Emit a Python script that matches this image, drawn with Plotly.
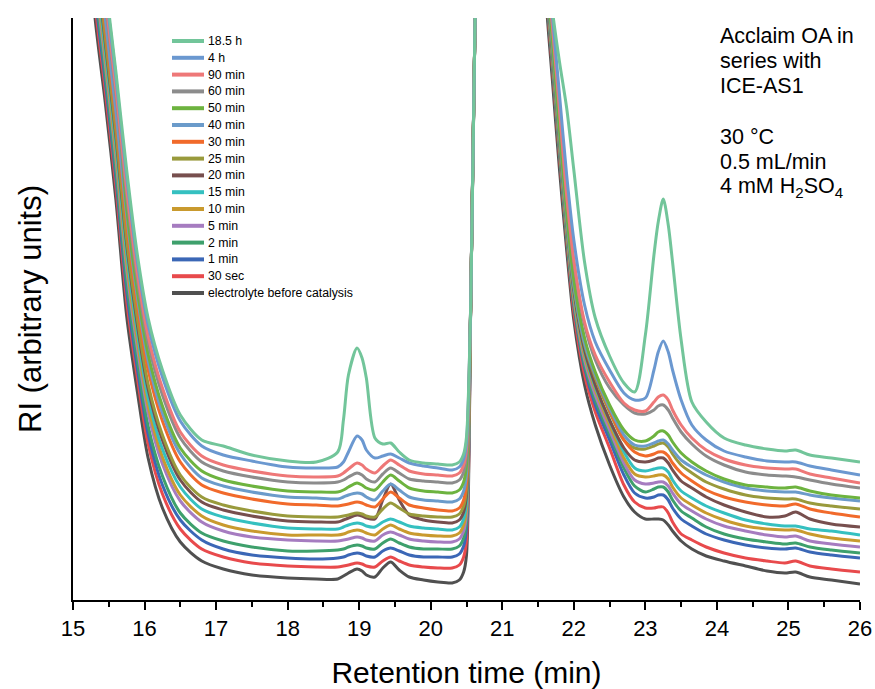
import plotly.graph_objects as go

# Retention time grid (min); None-gap where the solvent spike leaves the plot
retention_time = [
    15.22, 15.30, 15.45, 15.60, 15.75, 15.90, 16.05, 16.25, 16.50, 16.80, 17.10, 17.50,
    18.00, 18.40, 18.70, 18.78, 18.85, 18.97, 19.04, 19.10, 19.22, 19.33, 19.44, 19.56, 19.70, 19.90, 20.10, 20.30,
    20.40, 20.46, 20.50, 20.56, 20.62, 20.68,
    21.10,
    21.54, 21.60, 21.70, 21.80, 21.90, 22.00, 22.15, 22.30, 22.50, 22.70, 22.85, 23.00, 23.12, 23.18, 23.25, 23.32,
    23.38, 23.50, 23.65, 23.85, 24.10, 24.40, 24.70, 24.95, 25.10, 25.30, 25.60, 26.00,
]

ri_electrolyte = [680, 588, 498, 400, 284, 208, 142, 92, 58, 39, 31, 25,
                  22, 21, 21, 24, 27, 31, 29, 25, 23, 32, 38, 30, 23, 20, 18, 17,
                  20, 28, 45, 300, 582, 750, None,
                  680, 610, 520, 430, 350, 280, 215, 175, 135, 103, 88, 81, 81, 81, 80, 75,
                  69, 59, 51, 44, 39, 34, 29, 27, 28, 23, 20, 16]
ri_30sec = [697, 602, 510, 413, 299, 222, 156, 106, 71, 51, 43, 37,
            34, 33, 33, 34, 35, 37, 36, 34, 33, 39, 43, 39, 35, 33, 32, 32,
            35, 43, 60, 300, 582, 750, None,
            690, 620, 532, 442, 360, 288, 225, 188, 152, 115, 98, 92, 92, 93, 93, 87,
            78, 66, 60, 53, 47, 42, 39, 37, 39, 34, 31, 28]
ri_1min = [709, 612, 519, 422, 309, 231, 166, 115, 80, 60, 51, 45,
           42, 41, 42, 43, 45, 47, 46, 44, 43, 49, 52, 49, 45, 43, 43, 43,
           46, 54, 71, 300, 582, 750, None,
           695, 625, 538, 448, 365, 295, 232, 195, 160, 125, 107, 102, 103, 105, 105, 100,
           92, 81, 74, 66, 60, 55, 52, 51, 52, 48, 45, 42]
ri_2min = [719, 621, 526, 429, 318, 240, 174, 124, 87, 67, 59, 53,
           49, 49, 50, 51, 53, 55, 54, 52, 51, 57, 61, 57, 53, 51, 51, 51,
           54, 62, 79, 300, 582, 750, None,
           695, 625, 538, 448, 365, 297, 235, 200, 166, 132, 114, 108, 111, 113, 113, 108,
           100, 89, 82, 73, 66, 61, 58, 56, 57, 53, 50, 47]
ri_5min = [734, 633, 537, 441, 331, 252, 187, 136, 99, 78, 69, 63,
           60, 59, 59, 60, 61, 63, 62, 60, 59, 65, 68, 65, 61, 59, 58, 58,
           61, 69, 86, 300, 582, 750, None,
           700, 630, 545, 455, 372, 302, 240, 205, 170, 137, 120, 116, 117, 118, 118, 114,
           107, 96, 89, 81, 74, 69, 65, 63, 64, 59, 56, 53]
ri_10min = [743, 641, 543, 447, 338, 259, 194, 143, 105, 84, 75, 69,
            65, 65, 65, 66, 68, 70, 69, 67, 65, 71, 75, 71, 67, 65, 64, 64,
            67, 75, 92, 300, 582, 750, None,
            700, 630, 545, 455, 372, 304, 244, 210, 175, 142, 126, 123, 124, 125, 125, 121,
            113, 102, 95, 87, 80, 74, 71, 70, 70, 66, 62, 59]
ri_15min = [753, 649, 550, 455, 347, 267, 202, 151, 113, 91, 83, 77,
            72, 71, 71, 73, 75, 77, 76, 74, 73, 78, 81, 78, 74, 72, 71, 70,
            73, 81, 98, 300, 582, 750, None,
            705, 635, 550, 460, 378, 308, 248, 213, 179, 148, 132, 129, 131, 132, 132, 128,
            120, 109, 102, 94, 87, 80, 76, 74, 74, 71, 69, 65]
ri_20min = [763, 658, 558, 463, 356, 275, 211, 160, 120, 98, 90, 84,
            79, 78, 78, 80, 82, 85, 84, 82, 81, 100, 116, 100, 85, 80, 78, 77,
            80, 88, 105, 300, 582, 750, None,
            705, 635, 550, 460, 378, 310, 250, 215, 180, 152, 140, 138, 140, 142, 142, 137,
            130, 119, 112, 103, 95, 88, 83, 84, 88, 81, 76, 73]
ri_25min = [770, 663, 563, 468, 361, 281, 216, 165, 125, 103, 95, 89,
            84, 83, 83, 84, 85, 87, 86, 84, 83, 91, 97, 92, 86, 84, 83, 83,
            86, 94, 111, 300, 582, 750, None,
            710, 640, 555, 465, 382, 314, 255, 222, 188, 160, 152, 151, 154, 156, 157, 153,
            146, 135, 127, 118, 111, 105, 102, 101, 101, 97, 94, 91]
ri_30min = [787, 677, 575, 481, 376, 294, 230, 179, 138, 115, 107, 101,
            96, 95, 94, 95, 96, 98, 97, 95, 93, 101, 108, 102, 95, 92, 90, 89,
            92, 100, 117, 300, 582, 750, None,
            710, 640, 560, 470, 388, 320, 260, 225, 190, 160, 148, 144, 146, 148, 148, 144,
            137, 127, 119, 110, 103, 98, 95, 94, 96, 91, 87, 83]
ri_40min = [797, 686, 582, 488, 385, 303, 239, 187, 146, 122, 114, 108,
            103, 102, 101, 103, 105, 107, 106, 103, 100, 109, 116, 110, 103, 100, 99, 98,
            101, 109, 126, 300, 582, 750, None,
            710, 640, 555, 465, 382, 315, 257, 225, 192, 165, 155, 154, 157, 159, 160, 156,
            150, 140, 133, 125, 118, 112, 109, 108, 108, 105, 102, 99]
ri_50min = [842, 723, 614, 522, 392, 309, 246, 194, 152, 129, 120, 114,
            109, 108, 108, 110, 113, 117, 115, 112, 110, 118, 125, 119, 112, 109, 108, 107,
            110, 118, 135, 300, 582, 750, None,
            715, 645, 560, 470, 388, 320, 262, 228, 195, 170, 160, 159, 164, 168, 169, 165,
            158, 147, 138, 129, 121, 115, 113, 112, 113, 109, 105, 102]
ri_60min = [819, 704, 598, 505, 404, 320, 257, 205, 162, 138, 129, 123,
            118, 117, 118, 120, 123, 127, 125, 121, 118, 126, 132, 127, 121, 119, 118, 117,
            120, 128, 145, 300, 582, 750, None,
            725, 655, 575, 490, 405, 338, 275, 240, 212, 195, 187, 186, 190, 194, 195, 190,
            182, 168, 156, 144, 135, 128, 125, 124, 123, 120, 116, 112]
ri_90min = [828, 712, 604, 511, 411, 327, 264, 212, 168, 144, 135, 129,
            124, 123, 124, 127, 131, 137, 135, 131, 127, 134, 140, 135, 129, 126, 125, 124,
            127, 135, 152, 300, 582, 750, None,
            725, 655, 575, 490, 405, 340, 278, 245, 218, 197, 190, 189, 198, 203, 205, 200,
            190, 175, 162, 150, 141, 135, 132, 131, 131, 126, 122, 117]
ri_4h = [842, 723, 614, 522, 423, 338, 275, 223, 179, 154, 145, 139,
         133, 132, 133, 138, 148, 164, 160, 150, 142, 144, 146, 142, 137, 134, 132, 130,
         133, 141, 158, 300, 582, 750, None,
         730, 660, 585, 505, 425, 360, 295, 258, 230, 207, 200, 202, 230, 248, 259, 248,
         230, 200, 175, 160, 149, 143, 139, 138, 138, 134, 130, 125]
ri_18_5h = [850, 730, 620, 528, 430, 345, 282, 230, 185, 160, 154, 145,
            139, 138, 148, 180, 225, 252, 242, 222, 162, 156, 157, 148, 140, 137, 136, 135,
            138, 146, 163, 300, 582, 750, None,
            730, 660, 590, 538, 492, 430, 338, 282, 244, 217, 208, 265, 345, 378, 401, 375,
            338, 260, 198, 178, 162, 155, 151, 149, 150, 145, 142, 138]

series_names = ["electrolyte before catalysis", "30 sec", "1 min", "2 min", "5 min", "10 min",
                "15 min", "20 min", "25 min", "30 min", "40 min", "50 min", "60 min",
                "90 min", "4 h", "18.5 h"]
series_values = [ri_electrolyte, ri_30sec, ri_1min, ri_2min, ri_5min, ri_10min, ri_15min,
                 ri_20min, ri_25min, ri_30min, ri_40min, ri_50min, ri_60min, ri_90min,
                 ri_4h, ri_18_5h]
series_colors = ["#505050", "#e84a4c", "#3b67b6", "#3ea06c", "#a67cc0", "#c99a2e",
                 "#35c0c0", "#774f4e", "#999a3c", "#f16a2b", "#6b9bca", "#6db33f",
                 "#8c8c8c", "#ee7878", "#6b98d0", "#72c59a"]

x_ticks = [15, 16, 17, 18, 19, 20, 21, 22, 23, 24, 25, 26]
note_lines = ["Acclaim OA in", "series with", "ICE-AS1", "",
              "30 °C", "0.5 mL/min", "4 mM H<sub>2</sub>SO<sub>4</sub>"]

fig = go.Figure()
for name, vals, col in zip(series_names, series_values, series_colors):
    fig.add_trace(go.Scatter(
        x=retention_time, y=vals, name=name, mode="lines",
        line=dict(color=col, width=3, shape="spline", smoothing=0.8),
        connectgaps=False, showlegend=False,
    ))

sans = "Liberation Sans, Arial, sans-serif"

# figure geometry (pixels) used to place the hand-drawn legend and note
W, H = 875, 689
ML, MR, MT, MB = 73, 15, 18, 89
PW, PH = W - ML - MR, H - MT - MB


def px_x(p):
    return (p - ML) / PW


def px_y(p):
    return (H - MB - p) / PH


shapes = []
annotations = []
# legend: newest first (top)
for k, idx in enumerate(range(len(series_names) - 1, -1, -1)):
    yy = px_y(41 + k * 16.8)
    shapes.append(dict(type="line", xref="paper", yref="paper",
                       x0=px_x(172), x1=px_x(204), y0=yy, y1=yy,
                       line=dict(color=series_colors[idx], width=4)))
    annotations.append(dict(xref="paper", yref="paper", x=px_x(206), y=yy,
                            xanchor="left", yanchor="middle", showarrow=False,
                            text=series_names[idx],
                            font=dict(family=sans, size=12.3, color="black")))

note_y = [36, 61, 86, 111, 137, 162, 188]
for txt, py in zip(note_lines, note_y):
    if txt:
        annotations.append(dict(xref="paper", yref="paper", x=px_x(718), y=px_y(py),
                                xanchor="left", yanchor="middle", showarrow=False,
                                text=txt, font=dict(family=sans, size=21.5, color="black")))

fig.update_layout(
    width=W, height=H,
    margin=dict(l=ML, r=MR, t=MT, b=MB),
    paper_bgcolor="white", plot_bgcolor="white",
    showlegend=False,
    xaxis=dict(
        range=[15, 26], tickvals=x_ticks, ticktext=[str(v) for v in x_ticks],
        ticks="outside", ticklen=8, tickwidth=1.5, tickcolor="black",
        minor=dict(dtick=0.5, tick0=15, ticks="outside", ticklen=5, tickwidth=1.5, tickcolor="black"),
        showline=True, linecolor="black", linewidth=1.5,
        showgrid=False, zeroline=False, automargin=False,
        tickfont=dict(family=sans, size=22, color="black"),
        title=dict(text="Retention time (min)", font=dict(family=sans, size=30, color="black"), standoff=24),
    ),
    yaxis=dict(
        range=[0, 582], showticklabels=False, ticks="",
        showline=True, linecolor="black", linewidth=1.5,
        showgrid=False, zeroline=False, automargin=False,
        title=dict(text="RI (arbitrary units)", font=dict(family=sans, size=31, color="black"), standoff=20),
    ),
    shapes=shapes,
    annotations=annotations,
)

fig.write_html("out.html")
